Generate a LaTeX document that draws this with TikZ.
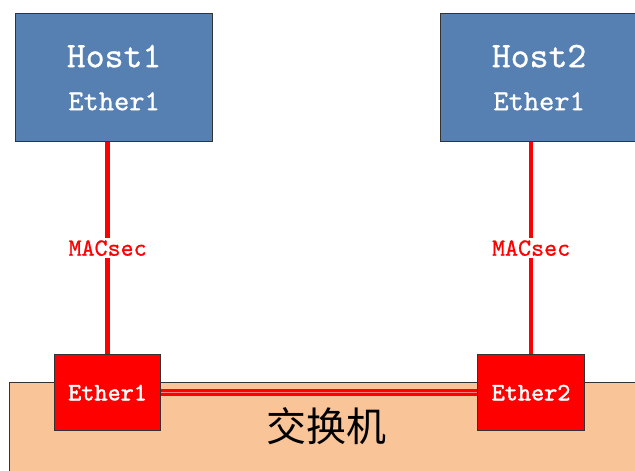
\documentclass[tikz,border=0pt]{standalone}
\usepackage{fontspec}
\newfontfamily\cjkfont{Noto Sans CJK SC}
\newfontfamily\boldtt{lmmono10-regular.otf}[FakeBold=1.6]
\newfontfamily\semitt{lmmono10-regular.otf}[FakeBold=0.8]
\definecolor{hostblue}{RGB}{86,128,178}
\definecolor{swpeach}{RGB}{248,196,152}
\begin{document}
\begin{tikzpicture}[x=1pt,y=-1pt,
  hostbox/.style={draw=black!80,line width=1.2pt,fill=hostblue,minimum width=197pt,minimum height=128pt,anchor=north west,inner sep=0pt,align=center,text=white,font=\semitt\fontsize{29}{43}\selectfont},
  portbox/.style={draw=black!80,line width=1.2pt,fill=red,minimum height=76pt,anchor=north west,inner sep=0pt,text=white,font=\boldtt\fontsize{25}{30}\selectfont},
  macsec/.style={red,line width=4.5pt},
  seclabel/.style={fill=white,text=red,inner sep=2pt,font=\semitt\fontsize{24.8}{28}\selectfont}]
\useasboundingbox (0,0) rectangle (635,471);
\node[draw=black!80,line width=1.2pt,fill=swpeach,anchor=north west,minimum width=640pt,minimum height=100pt,inner sep=0pt] (switch) at (9,382) {};
\node[font=\cjkfont\fontsize{40}{44}\selectfont] (swname) at (326,426) {交换机};
\node[hostbox] (host1) at (15,13) {{\fontsize{36}{36}\selectfont Host1}\\Ether1};
\node[hostbox] (host2) at (440,13) {{\fontsize{36}{36}\selectfont Host2}\\Ether1};
\node[portbox,minimum width=106pt] (port1) at (54,354) {Ether1};
\node[portbox,minimum width=107pt] (port2) at (477,354) {Ether2};
\draw[macsec] (port1.north) -- node[seclabel] (sec1) {MACsec} (port1.north |- host1.south);
\draw[macsec] (port2.north) -- node[seclabel] (sec2) {MACsec} (port2.north |- host2.south);
\draw[red,line width=6.5pt] (port1.east) -- (port2.west);
\draw[red!50,line width=1.6pt] (port1.east) -- (port2.west);
\end{tikzpicture}
\end{document}
